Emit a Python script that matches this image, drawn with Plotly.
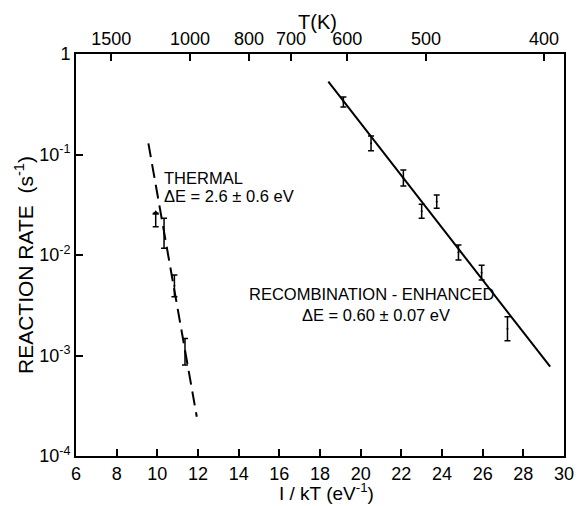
import plotly.graph_objects as go
import numpy as np

# ---- data ----
# recombination-enhanced points (1/kT in eV^-1, rate in s^-1)
rec_x = [19.15, 20.51, 22.10, 23.00, 23.74, 24.81, 25.95, 27.22]
rec_hi = [0.373, 0.153, 0.070, 0.032, 0.0395, 0.0126, 0.0079, 0.00243]
rec_lo = [0.297, 0.109, 0.0486, 0.0232, 0.0292, 0.0089, 0.00564, 0.0014]

# thermal points
th_x = [10.33, 10.84, 11.36]
th_hi = [0.0232, 0.00632, 0.00148]
th_lo = [0.01166, 0.00385, 0.000803]

# thermal lower-limit point (arrow)
lim_x = [9.92]
lim_hi = [0.026]
lim_lo = [0.0191]

# fitted lines
rec_fit_x = [18.41, 29.32]
rec_fit_y = [0.53, 0.000774]
th_fit_x = [9.56, 11.94]
th_fit_y = [0.129, 0.000246]

# axes
x_ticks = list(range(6, 31, 2))
y_ticks = [1e-4, 1e-3, 1e-2, 1e-1, 1]
y_ticktext = ["10<sup>-4</sup>", "10<sup>-3</sup>", "10<sup>-2</sup>", "10<sup>-1</sup>", "1"]
T_ticks = [1500, 1000, 800, 700, 600, 500, 400]
k_B = 8.617e-5  # eV/K

FONT = "Liberation Sans"


def center_err(hi, lo):
    c = [float(np.sqrt(h * l)) for h, l in zip(hi, lo)]
    plus = [h - m for h, m in zip(hi, c)]
    minus = [m - l for m, l in zip(c, lo)]
    return c, plus, minus


fig = go.Figure()

rc, rp, rm = center_err(rec_hi, rec_lo)
fig.add_trace(go.Scatter(
    x=rec_x, y=rc, mode="markers",
    marker=dict(size=2, color="black"),
    error_y=dict(type="data", symmetric=False, array=rp, arrayminus=rm,
                 color="black", thickness=1.5, width=3),
))

tc, tp, tm = center_err(th_hi, th_lo)
fig.add_trace(go.Scatter(
    x=th_x, y=tc, mode="markers",
    marker=dict(size=2, color="black"),
    error_y=dict(type="data", symmetric=False, array=tp, arrayminus=tm,
                 color="black", thickness=1.5, width=3),
))

fig.add_trace(go.Scatter(
    x=lim_x, y=lim_hi, mode="markers",
    marker=dict(symbol="triangle-up", size=6, color="black"),
    error_y=dict(type="data", symmetric=False, array=[0],
                 arrayminus=[h - l for h, l in zip(lim_hi, lim_lo)],
                 color="black", thickness=1.5, width=3),
))

fig.add_trace(go.Scatter(
    x=rec_fit_x, y=rec_fit_y, mode="lines",
    line=dict(color="black", width=2),
))
fig.add_trace(go.Scatter(
    x=th_fit_x, y=th_fit_y, mode="lines",
    line=dict(color="black", width=2, dash="14px,7px"),
))

# invisible trace to anchor the top axis
fig.add_trace(go.Scatter(
    x=[6, 30], y=[1e-4, 1e-4], xaxis="x2", mode="markers",
    marker=dict(size=1, opacity=0), hoverinfo="skip",
))

axis_font = dict(family=FONT, size=18, color="black")

# the page body adds an 8px offset, so the figure is sized to end at the window edge
fig.update_layout(
    width=574, height=498,
    margin=dict(l=68, r=18, t=46, b=50),
    paper_bgcolor="white", plot_bgcolor="white",
    showlegend=False,
    font=dict(family=FONT, color="black"),
    xaxis=dict(
        range=[6, 30], tickvals=x_ticks, ticktext=[str(v) for v in x_ticks],
        ticks="inside", ticklen=7, tickwidth=1.5, tickcolor="black",
        showline=True, linewidth=2, linecolor="black", mirror=False,
        showgrid=False, zeroline=False, tickfont=axis_font, automargin=False,
    ),
    xaxis2=dict(
        range=[6, 30], overlaying="x", side="top", anchor="y",
        tickvals=[1.0 / (k_B * T) for T in T_ticks],
        ticktext=[str(T) for T in T_ticks],
        ticks="inside", ticklen=7, tickwidth=1.5, tickcolor="black",
        showline=True, linewidth=2, linecolor="black",
        showgrid=False, zeroline=False, tickfont=axis_font, automargin=False,
    ),
    yaxis=dict(
        type="log", range=[-4, 0], tickvals=y_ticks, ticktext=y_ticktext,
        ticks="inside", ticklen=7, tickwidth=1.5, tickcolor="black",
        showline=True, linewidth=2, linecolor="black", mirror=True,
        showgrid=False, zeroline=False, tickfont=axis_font, automargin=False,
    ),
)

ann_font = dict(family=FONT, size=16.5, color="black")
annotations = [
    dict(x=10.22, y=-(178 - 54) / 100.5, text="THERMAL", xanchor="left", yanchor="middle",
         showarrow=False, font=ann_font),
    dict(x=10.22, y=-(196 - 54) / 100.5, text="ΔE = 2.6 ± 0.6 eV", xanchor="left", yanchor="middle",
         showarrow=False, font=ann_font),
    dict(x=14.40, y=-2.388, text="RECOMBINATION - ENHANCED", xanchor="left", yanchor="middle",
         showarrow=False, font=ann_font),
    dict(x=17.02, y=-2.597, text="ΔE = 0.60 ± 0.07 eV", xanchor="left", yanchor="middle",
         showarrow=False, font=ann_font),
    # axis titles (paper coords relative to the plot area)
    dict(xref="paper", yref="paper", x=(317 - 76) / 488, y=(456 - 22) / 402,
         text="T(K)", showarrow=False, xanchor="center", yanchor="middle",
         font=dict(family=FONT, size=20, color="black")),
    dict(xref="paper", yref="paper", x=(326 - 76) / 488, y=(456 - 492) / 402,
         text="I / kT (eV<sup>-1</sup>)", showarrow=False, xanchor="center", yanchor="middle",
         font=dict(family=FONT, size=19, color="black")),
    dict(xref="paper", yref="paper", x=(24 - 76) / 488, y=(456 - 265) / 402,
         text="REACTION RATE  (s<sup>-1</sup>)", showarrow=False, textangle=-90,
         xanchor="center", yanchor="middle",
         font=dict(family=FONT, size=21, color="black")),
]
fig.update_layout(annotations=annotations)

fig.write_html("out.html")
